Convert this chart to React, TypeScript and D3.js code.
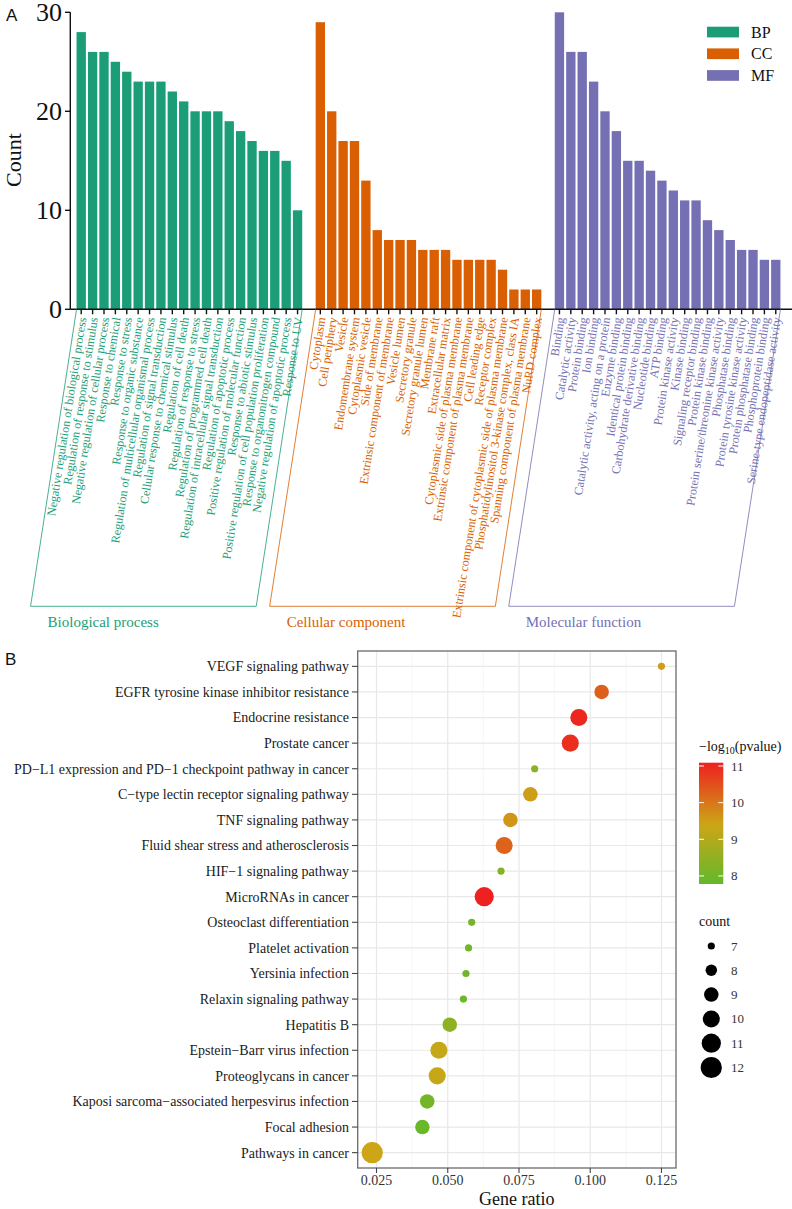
import React from "react";
import * as d3 from "d3";

// ---------- Panel A data ----------
const bpTerms = [
  "Negative regulation of biological process",
  "Regulation of response to stimulus",
  "Negative regulation of cellular process",
  "Response to chemical",
  "Response to stress",
  "Response to organic substance",
  "Regulation of multicellular organismal process",
  "Regulation of signal transduction",
  "Cellular response to chemical stimulus",
  "Regulation of cell death",
  "Regulation of response to stress",
  "Regulation of programmed cell death",
  "Regulation of intracellular signal transduction",
  "Regulation of apoptotic process",
  "Positive regulation of molecular function",
  "Response to abiotic stimulus",
  "Positive regulation of cell population proliferation",
  "Response to organonitrogen compound",
  "Negative regulation of apoptotic process",
  "Response to UV",
];
const bpCounts = [28, 26, 26, 25, 24, 23, 23, 23, 22, 21, 20, 20, 20, 19, 18, 17, 16, 16, 15, 10];

const ccTerms = [
  "Cytoplasm",
  "Cell periphery",
  "Vesicle",
  "Endomembrane system",
  "Cytoplasmic vesicle",
  "Side of membrane",
  "Extrinsic component of membrane",
  "Vesicle lumen",
  "Secretory granule",
  "Secretory granule lumen",
  "Membrane raft",
  "Extracellular matrix",
  "Cytoplasmic side of plasma membrane",
  "Extrinsic component of plasma membrane",
  "Cell leading edge",
  "Receptor complex",
  "Extrinsic component of cytoplasmic side of plasma membrane",
  "Phosphatidylinositol 3-kinase complex, class IA",
  "Spanning component of plasma membrane",
  "NuRD complex",
];
const ccCounts = [29, 20, 17, 17, 13, 8, 7, 7, 7, 6, 6, 6, 5, 5, 5, 5, 4, 2, 2, 2];

const mfTerms = [
  "Binding",
  "Catalytic activity",
  "Protein binding",
  "Ion binding",
  "Catalytic activity, acting on a protein",
  "Enzyme binding",
  "Identical protein binding",
  "Carbohydrate derivative binding",
  "Nucleotide binding",
  "ATP binding",
  "Protein kinase activity",
  "Kinase binding",
  "Signaling receptor binding",
  "Protein kinase binding",
  "Protein serine/threonine kinase activity",
  "Phosphatase binding",
  "Protein tyrosine kinase activity",
  "Protein phosphatase binding",
  "Phosphoprotein binding",
  "Serine-type endopeptidase activity",
];
const mfCounts = [30, 26, 26, 23, 20, 18, 15, 15, 14, 13, 12, 11, 11, 9, 8, 7, 6, 6, 5, 5];

const goGroups = ["BP", "CC", "MF"];
const goGroupTitles = ["Biological process", "Cellular component", "Molecular function"];
const goColors = ["#1b9e77", "#d95f02", "#7570b3"];
const countTicks = [0, 10, 20, 30];

// ---------- Panel B data ----------
const keggTerms = [
  "VEGF signaling pathway",
  "EGFR tyrosine kinase inhibitor resistance",
  "Endocrine resistance",
  "Prostate cancer",
  "PD\u2212L1 expression and PD\u22121 checkpoint pathway in cancer",
  "C\u2212type lectin receptor signaling pathway",
  "TNF signaling pathway",
  "Fluid shear stress and atherosclerosis",
  "HIF\u22121 signaling pathway",
  "MicroRNAs in cancer",
  "Osteoclast differentiation",
  "Platelet activation",
  "Yersinia infection",
  "Relaxin signaling pathway",
  "Hepatitis B",
  "Epstein\u2212Barr virus infection",
  "Proteoglycans in cancer",
  "Kaposi sarcoma\u2212associated herpesvirus infection",
  "Focal adhesion",
  "Pathways in cancer",
];
const geneRatio = [0.125, 0.104, 0.096, 0.093, 0.0805, 0.079, 0.072, 0.0698, 0.0687, 0.0628, 0.0584, 0.0573, 0.0564, 0.0555, 0.0507, 0.0469, 0.0463, 0.0428, 0.0411, 0.0235];
const keggCount = [7, 9, 10, 10, 7, 9, 9, 10, 7, 11, 7, 7, 7, 7, 9, 10, 10, 9, 9, 12];
const keggLogP = [9.5, 10.3, 11.0, 10.9, 8.4, 9.5, 9.6, 10.25, 8.3, 11.09, 8.1, 8.0, 8.0, 7.95, 8.45, 9.3, 9.3, 8.05, 7.9, 9.4];
const ratioTicks = [0.025, 0.05, 0.075, 0.1, 0.125];
const pTicks = [8, 9, 10, 11];
const countBreaks = [7, 8, 9, 10, 11, 12];

const SERIF = "'Liberation Serif', 'Times New Roman', serif";
const SANS = "'Liberation Sans', Arial, sans-serif";

export default function App() {
  // ----- Panel A scales -----
  const allTerms = [...bpTerms, "__gap1", ...ccTerms, "__gap2", ...mfTerms];
  const x = d3.scaleBand<string>().domain(allTerms).range([72, 785]).paddingInner(0.18).paddingOuter(0.4);
  const y = d3.scaleLinear().domain([0, 30]).range([309.3, 12.3]);
  const baseY = y(0);
  const groups = [
    { terms: bpTerms, counts: bpCounts },
    { terms: ccTerms, counts: ccCounts },
    { terms: mfTerms, counts: mfCounts },
  ];
  const skewX = 46;
  const skewY = 297;

  // ----- Panel B scales -----
  const px = d3.scaleLinear().domain([0.0184, 0.1301]).range([357.7, 676]);
  const py = d3.scalePoint<string>().domain(keggTerms).range([651, 1168]).padding(0.6);
  const rScale = d3.scaleRadial().domain([7, 12]).range([3.6, 10.6]);
  const cScale = d3
    .scaleLinear<string>()
    .domain([7.78, 9.4, 11.09])
    .range(["#62b92c", "#cca616", "#ee2020"])
    .interpolate(d3.interpolateRgb);
  const cbTop = 762.7;
  const cbBottom = 884;
  const cbY = d3.scaleLinear().domain([7.78, 11.09]).range([cbBottom, cbTop]);
  const minorTicks = [0.0125, 0.0375, 0.0625, 0.0875, 0.1125].filter((t) => px(t) >= 357.7);
  const gradStops = d3.range(0, 1.0001, 0.05).map((t) => {
    const v = 7.78 + t * (11.09 - 7.78);
    return { off: t, col: cScale(v) };
  });

  return (
    <svg
      width={792}
      height={1209}
      style={{ position: "absolute", left: 0, top: 0, background: "#fff" }}
      fontFamily={SERIF}
    >
      <defs>
        <linearGradient id="pgrad" x1="0" y1="1" x2="0" y2="0">
          {gradStops.map((s, i) => (
            <stop key={i} offset={s.off} stopColor={s.col} />
          ))}
        </linearGradient>
      </defs>

      {/* ================= Panel A ================= */}
      <text x={6} y={21} fontFamily={SANS} fontSize={17} fill="#111">A</text>

      {/* y axis */}
      <line x1={70.3} x2={70.3} y1={y(30)} y2={baseY} stroke="#111" strokeWidth={1.4} />
      {countTicks.map((t) => (
        <g key={t}>
          <line x1={65} x2={70.3} y1={y(t)} y2={y(t)} stroke="#111" strokeWidth={1.4} />
          <text x={62} y={y(t)} dy="0.34em" textAnchor="end" fontSize={26} fill="#111">
            {t}
          </text>
        </g>
      ))}
      <text transform={`translate(21,160) rotate(-90)`} textAnchor="middle" fontSize={22} fill="#111">
        Count
      </text>

      {/* bars */}
      {groups.map((g, gi) =>
        g.terms.map((t, i) => (
          <rect
            key={gi + "-" + i}
            x={x(t)}
            y={y(g.counts[i])}
            width={x.bandwidth()}
            height={baseY - y(g.counts[i])}
            fill={goColors[gi]}
          />
        ))
      )}

      {/* x axis */}
      <line x1={70.3} x2={792} y1={baseY} y2={baseY} stroke="#111" strokeWidth={1.4} />
      {groups.map((g, gi) =>
        g.terms.map((t, i) => {
          const cx = (x(t) as number) + x.bandwidth() / 2;
          return (
            <line key={"tk" + gi + "-" + i} x1={cx} x2={cx} y1={baseY} y2={baseY + 5} stroke="#111" strokeWidth={1.4} />
          );
        })
      )}

      {/* rotated category labels */}
      {groups.map((g, gi) =>
        g.terms.map((t, i) => {
          const cx = (x(t) as number) + x.bandwidth() / 2;
          return (
            <text
              key={"lb" + gi + "-" + i}
              transform={`translate(${cx + 1},${baseY + 8}) rotate(-81)`}
              textAnchor="end"
              dy="0.35em"
              fontSize={12.2}
              fill={goColors[gi]}
            >
              {t}
            </text>
          );
        })
      )}

      {/* group brackets */}
      {groups.map((g, gi) => {
        const left = x(g.terms[0]) as number;
        const right = (x(g.terms[g.terms.length - 1]) as number) + x.bandwidth();
        const pts = [
          [left, baseY],
          [left - skewX, baseY + skewY],
          [right - skewX, baseY + skewY],
          [right, baseY],
        ];
        return (
          <g key={"br" + gi}>
            <polyline
              points={pts.map((p) => p.join(",")).join(" ")}
              fill="none"
              stroke={goColors[gi]}
              strokeOpacity={0.8}
              strokeWidth={1}
            />
            <text x={left - skewX + 17} y={627} fontSize={15} fill={goColors[gi]}>
              {goGroupTitles[gi]}
            </text>
          </g>
        );
      })}

      {/* legend A */}
      {goGroups.map((k, i) => (
        <g key={k}>
          <rect x={707} y={26.7 + i * 21.7} width={32} height={10.7} fill={goColors[i]} />
          <text x={751} y={32 + i * 21.7} dy="0.35em" fontSize={16} fill="#111">
            {k}
          </text>
        </g>
      ))}

      {/* ================= Panel B ================= */}
      <text x={5} y={665} fontFamily={SANS} fontSize={17} fill="#111">B</text>

      {/* minor grid */}
      {minorTicks.map((t, i) => (
        <line key={"mn" + i} x1={px(t)} x2={px(t)} y1={651} y2={1168} stroke="#f2f2f2" strokeWidth={0.7} />
      ))}
      {/* major grid */}
      {ratioTicks.map((t) => (
        <line key={"mj" + t} x1={px(t)} x2={px(t)} y1={651} y2={1168} stroke="#e8e8e8" strokeWidth={1.2} />
      ))}
      {keggTerms.map((t) => (
        <line key={"hg" + t} x1={357.7} x2={676} y1={py(t)} y2={py(t)} stroke="#e8e8e8" strokeWidth={1.2} />
      ))}

      {/* points */}
      {keggTerms.map((t, i) => (
        <circle key={"pt" + i} cx={px(geneRatio[i])} cy={py(t)} r={rScale(keggCount[i])} fill={cScale(keggLogP[i])} />
      ))}

      {/* panel border */}
      <rect x={357.7} y={651} width={676 - 357.7} height={1168 - 651} fill="none" stroke="#6a6a6a" strokeWidth={1.3} />

      {/* y axis labels */}
      {keggTerms.map((t) => (
        <g key={"yl" + t}>
          <line x1={352} x2={357.7} y1={py(t)} y2={py(t)} stroke="#444" strokeWidth={1.1} />
          <text x={349} y={py(t)} dy="0.35em" textAnchor="end" fontSize={14} fill="#1a1a1a">
            {t}
          </text>
        </g>
      ))}

      {/* x axis */}
      {ratioTicks.map((t) => (
        <g key={"xl" + t}>
          <line x1={px(t)} x2={px(t)} y1={1168} y2={1173} stroke="#444" strokeWidth={1.1} />
          <text x={px(t)} y={1185} textAnchor="middle" fontSize={14} fill="#333">
            {d3.format(".3f")(t)}
          </text>
        </g>
      ))}
      <text x={(357.7 + 676) / 2} y={1205} textAnchor="middle" fontSize={18} fill="#111">
        Gene ratio
      </text>

      {/* colour legend */}
      <text x={699} y={751} fontSize={14} fill="#111">
        {"\u2212log"}
        <tspan fontSize={10} dy={3}>10</tspan>
        <tspan dy={-3}>(pvalue)</tspan>
      </text>
      <rect x={699} y={cbTop} width={24.3} height={cbBottom - cbTop} fill="url(#pgrad)" />
      {pTicks.map((t) => (
        <g key={"pt" + t}>
          <line x1={699} x2={704} y1={cbY(t)} y2={cbY(t)} stroke="#fff" strokeWidth={1} />
          <line x1={718.3} x2={723.3} y1={cbY(t)} y2={cbY(t)} stroke="#fff" strokeWidth={1} />
          <text x={731} y={cbY(t)} dy="0.35em" fontSize={13} fill="#333">
            {t}
          </text>
        </g>
      ))}

      {/* size legend */}
      <text x={699} y={926} fontSize={14} fill="#111">count</text>
      {countBreaks.map((c, i) => {
        const cy = 946 + i * 24.3;
        return (
          <g key={"cb" + c}>
            <circle cx={711.3} cy={cy} r={rScale(c)} fill="#000" />
            <text x={731} y={cy} dy="0.35em" fontSize={13} fill="#333">
              {c}
            </text>
          </g>
        );
      })}
    </svg>
  );
}
